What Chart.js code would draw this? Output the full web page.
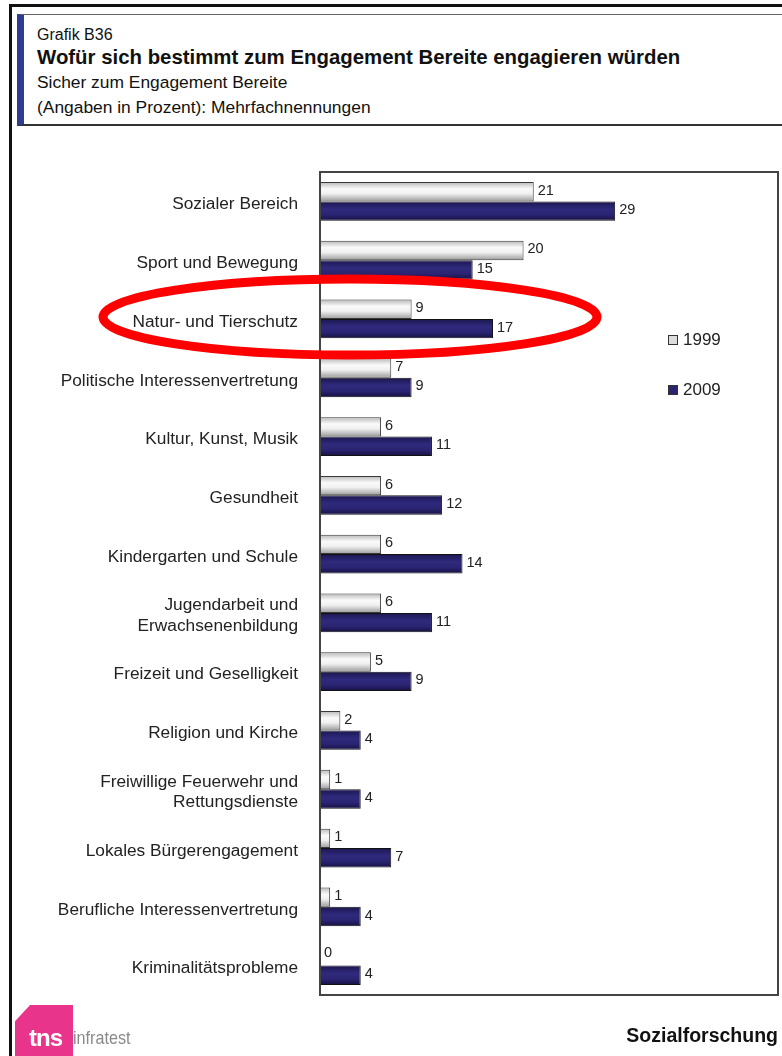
<!DOCTYPE html>
<html><head><meta charset="utf-8">
<script src="https://cdn.jsdelivr.net/npm/chart.js@4.4.1/dist/chart.umd.min.js"></script>
<style>
html,body{margin:0;padding:0;background:#fff;width:782px;height:1056px;overflow:hidden;position:relative;font-family:"Liberation Sans",Arial,sans-serif;}
#frame{position:absolute;left:9px;top:4px;width:900px;height:1200px;border-left:3px solid #111;border-top:3px solid #111;}
#hdr{position:absolute;left:17px;top:14px;width:900px;height:109px;border-top:1px solid #666;border-bottom:2px solid #333;border-left:7px solid #2e3d92;}
.t{position:absolute;left:37px;color:#111;white-space:nowrap;}
#c{position:absolute;left:0;top:0;}
#logo{position:absolute;left:15px;top:1005px;width:58px;height:51px;background:#e8348a;clip-path:polygon(26% 0,100% 0,100% 100%,0 100%,0 32%);}
#tns{position:absolute;left:29px;top:1024px;font:bold 24px "Liberation Sans",Arial,sans-serif;color:#fff;letter-spacing:-1px;}
#infr{position:absolute;left:73px;top:1027px;font-size:19px;color:#8a8a8a;transform:scaleX(0.85);transform-origin:left top;}
#soz{position:absolute;right:4px;top:1024px;font:bold 19.5px "Liberation Sans",Arial,sans-serif;color:#111;}
</style></head>
<body>
<div id="frame"></div>
<div id="hdr"></div>
<div class="t" style="top:26px;font-size:16px;">Grafik B36</div>
<div class="t" style="top:46px;font-size:20.4px;font-weight:bold;">Wofür sich bestimmt zum Engagement Bereite engagieren würden</div>
<div class="t" style="top:72px;font-size:17.4px;">Sicher zum Engagement Bereite</div>
<div class="t" style="top:97px;font-size:17.4px;">(Angaben in Prozent): Mehrfachnennungen</div>
<canvas id="c" width="782" height="1056"></canvas>
<div id="logo"></div>
<div id="tns">tns</div>
<div id="infr">infratest</div>
<div id="soz">Sozialforschung</div>
<script>
const categories = [
  "Sozialer Bereich",
  "Sport und Bewegung",
  "Natur- und Tierschutz",
  "Politische Interessenvertretung",
  "Kultur, Kunst, Musik",
  "Gesundheit",
  "Kindergarten und Schule",
  ["Jugendarbeit und", "Erwachsenenbildung"],
  "Freizeit und Geselligkeit",
  "Religion und Kirche",
  ["Freiwillige Feuerwehr und", "Rettungsdienste"],
  "Lokales Bürgerengagement",
  "Berufliche Interessenvertretung",
  "Kriminalitätsprobleme"
];
const seriesNames = ["1999", "2009"];
const values1999 = [21, 20, 9, 7, 6, 6, 6, 6, 5, 2, 1, 1, 1, 0];
const values2009 = [29, 15, 17, 9, 11, 12, 14, 11, 9, 4, 4, 7, 4, 4];
const highlightIndex = 2;

const CAT_PCT = 0.66;

function barGradient(ctx, dsIndex) {
  const chart = ctx.chart;
  const ys = chart.scales && chart.scales.y;
  const solid = dsIndex === 0 ? '#e0e0e0' : '#2a2370';
  if (!ys || ys.height === undefined || !isFinite(ys.getPixelForValue(ctx.dataIndex))) return solid;
  const yc = ys.getPixelForValue(ctx.dataIndex);
  const w = ys.height / categories.length;
  const h = w * CAT_PCT / 2;
  const y0 = dsIndex === 0 ? yc - h : yc;
  if (!isFinite(y0) || !isFinite(h) || h <= 0) return solid;
  const g = chart.ctx.createLinearGradient(0, y0, 0, y0 + h);
  if (dsIndex === 0) {
    g.addColorStop(0, '#b8b8b8');
    g.addColorStop(0.35, '#fafafa');
    g.addColorStop(0.6, '#f0f0f0');
    g.addColorStop(1, '#9a9a9a');
  } else {
    g.addColorStop(0, '#1c1650');
    g.addColorStop(0.4, '#2f2a7c');
    g.addColorStop(0.7, '#2a2472');
    g.addColorStop(1, '#151040');
  }
  return g;
}

const framePlugin = {
  id: 'frame',
  afterDatasetsDraw(chart) {
    const {ctx, chartArea: a} = chart;
    ctx.save();
    ctx.strokeStyle = '#444';
    ctx.lineWidth = 2;
    ctx.strokeRect(a.left, a.top, a.right - a.left, a.bottom - a.top);
    // value labels
    ctx.font = '14.5px "Liberation Sans", Arial, sans-serif';
    ctx.fillStyle = '#222';
    ctx.textAlign = 'left';
    ctx.textBaseline = 'middle';
    chart.data.datasets.forEach((ds, i) => {
      const meta = chart.getDatasetMeta(i);
      meta.data.forEach((bar, j) => {
        const yOff = (ds.data[j] === 0) ? -3 : -1;
        ctx.fillText(String(ds.data[j]), bar.x + 4, bar.y + yOff);
      });
    });
    // legend
    const lx = 668, ly = [340, 390];
    ctx.font = '17px "Liberation Sans", Arial, sans-serif';
    chart.data.datasets.forEach((ds, i) => {
      ctx.fillStyle = i === 0 ? '#dcdcdc' : '#2a2370';
      ctx.fillRect(lx, ly[i] - 5, 10, 10);
      ctx.strokeStyle = '#333';
      ctx.lineWidth = 1;
      ctx.strokeRect(lx + 0.5, ly[i] - 4.5, 9, 9);
      ctx.fillStyle = '#222';
      ctx.fillText(ds.label, lx + 15, ly[i]);
    });
    ctx.restore();
  },
  afterDraw(chart) {
    const ctx = chart.ctx;
    const yc = chart.scales.y.getPixelForValue(highlightIndex);
    ctx.save();
    ctx.strokeStyle = '#ff0000';
    ctx.lineWidth = 9;
    ctx.beginPath();
    ctx.ellipse(350, yc - 2, 247, 38, 0, 0, Math.PI * 2);
    ctx.stroke();
    ctx.restore();
  }
};

new Chart(document.getElementById('c'), {
  type: 'bar',
  data: {
    labels: categories,
    datasets: [
      { label: seriesNames[0], data: values1999,
        backgroundColor: (ctx) => barGradient(ctx, 0),
        borderColor: '#3a3a3a', borderWidth: 1, borderSkipped: 'start' },
      { label: seriesNames[1], data: values2009,
        backgroundColor: (ctx) => barGradient(ctx, 1),
        borderColor: '#111', borderWidth: 1, borderSkipped: 'start' }
    ]
  },
  plugins: [framePlugin],
  options: {
    indexAxis: 'y',
    responsive: false,
    animation: false,
    events: [],
    layout: { padding: { top: 172, bottom: 61, left: 0, right: 4 } },
    datasets: { bar: { categoryPercentage: CAT_PCT, barPercentage: 1.0 } },
    plugins: { legend: { display: false }, tooltip: { enabled: false } },
    scales: {
      x: { display: false, min: 0, max: 45 },
      y: {
        grid: { display: false, drawTicks: false },
        border: { display: false },
        afterFit(scale) { scale.width = 320; },
        ticks: {
          padding: 22,
          labelOffset: 3,
          color: '#222',
          font: { size: 17.3, family: '"Liberation Sans", Arial, sans-serif', lineHeight: 1.2 }
        }
      }
    }
  }
});
</script>
</body></html>
